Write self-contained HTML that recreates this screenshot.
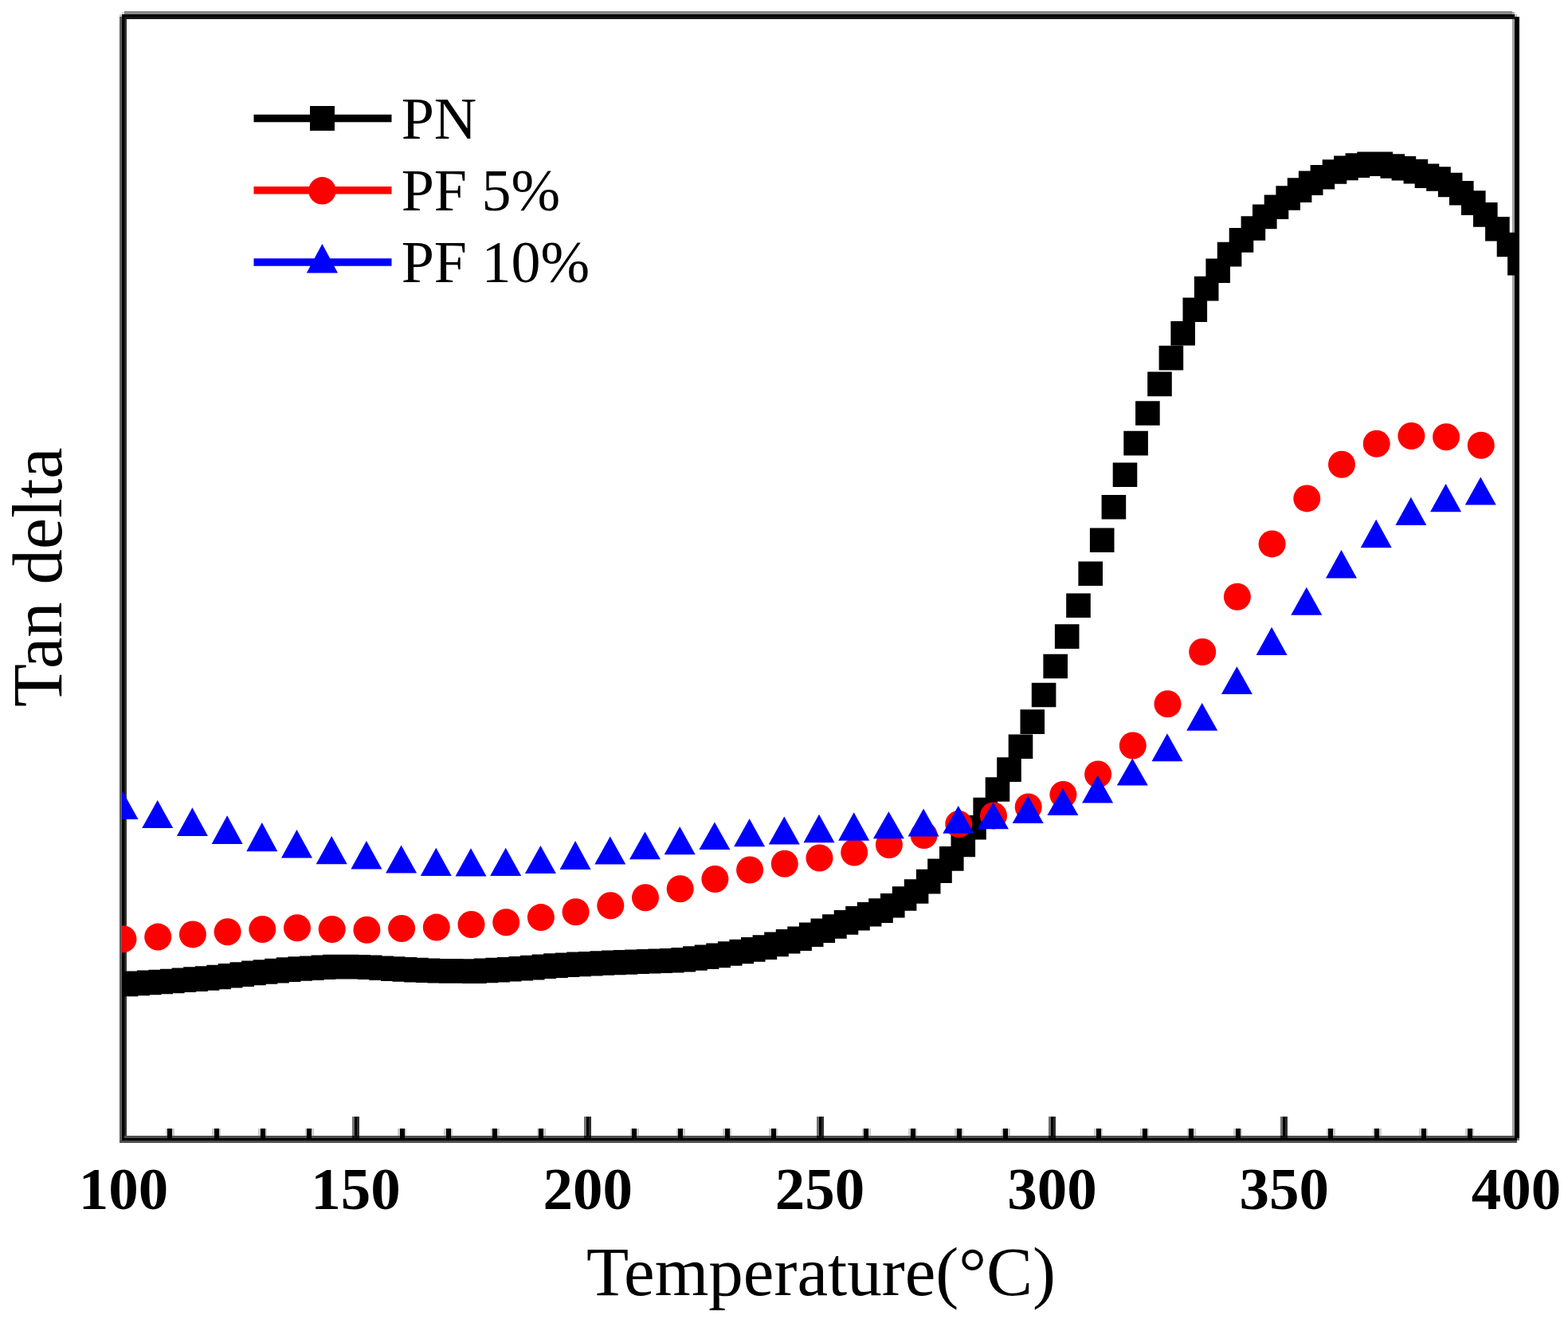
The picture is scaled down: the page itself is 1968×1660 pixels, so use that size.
<!DOCTYPE html>
<html><head><meta charset="utf-8"><title>Tan delta vs Temperature</title>
<style>
html,body{margin:0;padding:0;background:#fff;}
body{width:1968px;height:1660px;overflow:hidden;}
svg{display:block;}
.tl{font-family:"Liberation Serif",serif;font-weight:bold;font-size:75px;fill:#000;text-anchor:middle;}
.lg{font-family:"Liberation Serif",serif;font-size:74px;fill:#000;}
.ax{font-family:"Liberation Serif",serif;fill:#000;}
</style></head>
<body>
<svg width="1968" height="1660" viewBox="0 0 1968 1660">
<defs><clipPath id="pa"><rect x="153" y="18" width="1748" height="1410"/></clipPath></defs>
<rect width="1968" height="1660" fill="#fff"/>
<!-- frame -->
<g shape-rendering="crispEdges">
<rect x="156" y="14" width="1742" height="4" fill="#888"/>
<rect x="153" y="15" width="3" height="3" fill="#ddd"/>
<rect x="1898" y="15" width="3" height="3" fill="#aaa"/>
<rect x="153" y="18" width="1748" height="3" fill="#000"/>
<rect x="150" y="21" width="1751" height="3" fill="#161616"/>
<rect x="150" y="18" width="3" height="3" fill="#ccc"/>
<rect x="1901" y="18" width="3" height="3" fill="#bbb"/>
<rect x="150" y="1425" width="1751" height="3" fill="#505050"/>
<rect x="150" y="1428" width="1754" height="3" fill="#000"/>
<rect x="1904" y="1428" width="3" height="3" fill="#777"/>
<rect x="150" y="1431" width="1754" height="3" fill="#4c4c4c"/>
<rect x="150" y="21" width="3" height="1410" fill="#5c5c5c"/>
<rect x="153" y="21" width="3" height="1410" fill="#000"/>
<rect x="156" y="24" width="1" height="1401" fill="#1a1a1a"/>
<rect x="157" y="24" width="2" height="1401" fill="#363636"/>
<rect x="1898" y="24" width="3" height="1401" fill="#a0a0a0"/>
<rect x="1901" y="21" width="6" height="1407" fill="#000"/>
<rect x="207.8" y="1416" width="2.5" height="9" fill="#ccc"/>
<rect x="210.3" y="1416" width="6" height="12" fill="#000"/>
<rect x="216.3" y="1416" width="2.5" height="9" fill="#ccc"/>
<rect x="266" y="1416" width="2.5" height="9" fill="#ccc"/>
<rect x="268.5" y="1416" width="6" height="12" fill="#000"/>
<rect x="274.5" y="1416" width="2.5" height="9" fill="#ccc"/>
<rect x="324.3" y="1416" width="2.5" height="9" fill="#ccc"/>
<rect x="326.8" y="1416" width="6" height="12" fill="#000"/>
<rect x="332.8" y="1416" width="2.5" height="9" fill="#ccc"/>
<rect x="382.6" y="1416" width="2.5" height="9" fill="#ccc"/>
<rect x="385.1" y="1416" width="6" height="12" fill="#000"/>
<rect x="391.1" y="1416" width="2.5" height="9" fill="#ccc"/>
<rect x="441.9" y="1401" width="3" height="27" fill="#707070"/>
<rect x="444.9" y="1401" width="3" height="27" fill="#000"/>
<rect x="447.9" y="1401" width="3" height="27" fill="#2e2e2e"/>
<rect x="441.9" y="1425" width="9" height="3" fill="#111"/>
<rect x="499.1" y="1416" width="2.5" height="9" fill="#ccc"/>
<rect x="501.6" y="1416" width="6" height="12" fill="#000"/>
<rect x="507.6" y="1416" width="2.5" height="9" fill="#ccc"/>
<rect x="557.4" y="1416" width="2.5" height="9" fill="#ccc"/>
<rect x="559.9" y="1416" width="6" height="12" fill="#000"/>
<rect x="565.9" y="1416" width="2.5" height="9" fill="#ccc"/>
<rect x="615.7" y="1416" width="2.5" height="9" fill="#ccc"/>
<rect x="618.2" y="1416" width="6" height="12" fill="#000"/>
<rect x="624.2" y="1416" width="2.5" height="9" fill="#ccc"/>
<rect x="673.9" y="1416" width="2.5" height="9" fill="#ccc"/>
<rect x="676.4" y="1416" width="6" height="12" fill="#000"/>
<rect x="682.4" y="1416" width="2.5" height="9" fill="#ccc"/>
<rect x="733.2" y="1401" width="3" height="27" fill="#707070"/>
<rect x="736.2" y="1401" width="3" height="27" fill="#000"/>
<rect x="739.2" y="1401" width="3" height="27" fill="#2e2e2e"/>
<rect x="733.2" y="1425" width="9" height="3" fill="#111"/>
<rect x="790.5" y="1416" width="2.5" height="9" fill="#ccc"/>
<rect x="793" y="1416" width="6" height="12" fill="#000"/>
<rect x="799" y="1416" width="2.5" height="9" fill="#ccc"/>
<rect x="848.7" y="1416" width="2.5" height="9" fill="#ccc"/>
<rect x="851.2" y="1416" width="6" height="12" fill="#000"/>
<rect x="857.2" y="1416" width="2.5" height="9" fill="#ccc"/>
<rect x="907" y="1416" width="2.5" height="9" fill="#ccc"/>
<rect x="909.5" y="1416" width="6" height="12" fill="#000"/>
<rect x="915.5" y="1416" width="2.5" height="9" fill="#ccc"/>
<rect x="965.3" y="1416" width="2.5" height="9" fill="#ccc"/>
<rect x="967.8" y="1416" width="6" height="12" fill="#000"/>
<rect x="973.8" y="1416" width="2.5" height="9" fill="#ccc"/>
<rect x="1024.5" y="1401" width="3" height="27" fill="#707070"/>
<rect x="1027.5" y="1401" width="3" height="27" fill="#000"/>
<rect x="1030.5" y="1401" width="3" height="27" fill="#2e2e2e"/>
<rect x="1024.5" y="1425" width="9" height="3" fill="#111"/>
<rect x="1081.8" y="1416" width="2.5" height="9" fill="#ccc"/>
<rect x="1084.3" y="1416" width="6" height="12" fill="#000"/>
<rect x="1090.3" y="1416" width="2.5" height="9" fill="#ccc"/>
<rect x="1140.1" y="1416" width="2.5" height="9" fill="#ccc"/>
<rect x="1142.6" y="1416" width="6" height="12" fill="#000"/>
<rect x="1148.6" y="1416" width="2.5" height="9" fill="#ccc"/>
<rect x="1198.4" y="1416" width="2.5" height="9" fill="#ccc"/>
<rect x="1200.9" y="1416" width="6" height="12" fill="#000"/>
<rect x="1206.9" y="1416" width="2.5" height="9" fill="#ccc"/>
<rect x="1256.6" y="1416" width="2.5" height="9" fill="#ccc"/>
<rect x="1259.1" y="1416" width="6" height="12" fill="#000"/>
<rect x="1265.1" y="1416" width="2.5" height="9" fill="#ccc"/>
<rect x="1315.9" y="1401" width="3" height="27" fill="#707070"/>
<rect x="1318.9" y="1401" width="3" height="27" fill="#000"/>
<rect x="1321.9" y="1401" width="3" height="27" fill="#2e2e2e"/>
<rect x="1315.9" y="1425" width="9" height="3" fill="#111"/>
<rect x="1373.2" y="1416" width="2.5" height="9" fill="#ccc"/>
<rect x="1375.7" y="1416" width="6" height="12" fill="#000"/>
<rect x="1381.7" y="1416" width="2.5" height="9" fill="#ccc"/>
<rect x="1431.4" y="1416" width="2.5" height="9" fill="#ccc"/>
<rect x="1433.9" y="1416" width="6" height="12" fill="#000"/>
<rect x="1439.9" y="1416" width="2.5" height="9" fill="#ccc"/>
<rect x="1489.7" y="1416" width="2.5" height="9" fill="#ccc"/>
<rect x="1492.2" y="1416" width="6" height="12" fill="#000"/>
<rect x="1498.2" y="1416" width="2.5" height="9" fill="#ccc"/>
<rect x="1548" y="1416" width="2.5" height="9" fill="#ccc"/>
<rect x="1550.5" y="1416" width="6" height="12" fill="#000"/>
<rect x="1556.5" y="1416" width="2.5" height="9" fill="#ccc"/>
<rect x="1607.2" y="1401" width="3" height="27" fill="#707070"/>
<rect x="1610.2" y="1401" width="3" height="27" fill="#000"/>
<rect x="1613.2" y="1401" width="3" height="27" fill="#2e2e2e"/>
<rect x="1607.2" y="1425" width="9" height="3" fill="#111"/>
<rect x="1664.5" y="1416" width="2.5" height="9" fill="#ccc"/>
<rect x="1667" y="1416" width="6" height="12" fill="#000"/>
<rect x="1673" y="1416" width="2.5" height="9" fill="#ccc"/>
<rect x="1722.8" y="1416" width="2.5" height="9" fill="#ccc"/>
<rect x="1725.3" y="1416" width="6" height="12" fill="#000"/>
<rect x="1731.3" y="1416" width="2.5" height="9" fill="#ccc"/>
<rect x="1781.1" y="1416" width="2.5" height="9" fill="#ccc"/>
<rect x="1783.6" y="1416" width="6" height="12" fill="#000"/>
<rect x="1789.6" y="1416" width="2.5" height="9" fill="#ccc"/>
<rect x="1839.3" y="1416" width="2.5" height="9" fill="#ccc"/>
<rect x="1841.8" y="1416" width="6" height="12" fill="#000"/>
<rect x="1847.8" y="1416" width="2.5" height="9" fill="#ccc"/>
</g>
<!-- data -->
<g clip-path="url(#pa)">
<path fill="#000" d="M142.7 1219.6h30.6v30.6h-30.6zM157.3 1218.6h30.6v30.6h-30.6zM171.9 1217.6h30.6v30.6h-30.6zM186.4 1216.7h30.6v30.6h-30.6zM201 1215.7h30.6v30.6h-30.6zM215.6 1214.5h30.6v30.6h-30.6zM230.2 1213.3h30.6v30.6h-30.6zM244.8 1212.2h30.6v30.6h-30.6zM259.3 1210.7h30.6v30.6h-30.6zM273.9 1209h30.6v30.6h-30.6zM288.5 1207.3h30.6v30.6h-30.6zM303.1 1205.6h30.6v30.6h-30.6zM317.7 1204.2h30.6v30.6h-30.6zM332.2 1202.8h30.6v30.6h-30.6zM346.8 1201.3h30.6v30.6h-30.6zM361.4 1200.2h30.6v30.6h-30.6zM376 1199.4h30.6v30.6h-30.6zM390.6 1198.5h30.6v30.6h-30.6zM405.1 1197.7h30.6v30.6h-30.6zM419.7 1197.8h30.6v30.6h-30.6zM434.3 1197.9h30.6v30.6h-30.6zM448.9 1198.4h30.6v30.6h-30.6zM463.5 1199.4h30.6v30.6h-30.6zM478 1200.3h30.6v30.6h-30.6zM492.6 1201.1h30.6v30.6h-30.6zM507.2 1201.8h30.6v30.6h-30.6zM521.8 1202.5h30.6v30.6h-30.6zM536.4 1203h30.6v30.6h-30.6zM550.9 1203.1h30.6v30.6h-30.6zM565.5 1203.2h30.6v30.6h-30.6zM580.1 1203.3h30.6v30.6h-30.6zM594.7 1202.6h30.6v30.6h-30.6zM609.3 1201.8h30.6v30.6h-30.6zM623.8 1201h30.6v30.6h-30.6zM638.4 1200h30.6v30.6h-30.6zM653 1198.8h30.6v30.6h-30.6zM667.6 1197.5h30.6v30.6h-30.6zM682.2 1196.3h30.6v30.6h-30.6zM696.7 1195.4h30.6v30.6h-30.6zM711.3 1194.6h30.6v30.6h-30.6zM725.9 1193.9h30.6v30.6h-30.6zM740.5 1193.2h30.6v30.6h-30.6zM755.1 1192.6h30.6v30.6h-30.6zM769.6 1192.1h30.6v30.6h-30.6zM784.2 1191.5h30.6v30.6h-30.6zM798.8 1191h30.6v30.6h-30.6zM813.4 1190.5h30.6v30.6h-30.6zM828 1189.9h30.6v30.6h-30.6zM842.5 1189h30.6v30.6h-30.6zM857.1 1187.2h30.6v30.6h-30.6zM871.7 1185.4h30.6v30.6h-30.6zM886.3 1183.6h30.6v30.6h-30.6zM900.9 1181.2h30.6v30.6h-30.6zM915.4 1178.7h30.6v30.6h-30.6zM930 1176.1h30.6v30.6h-30.6zM944.6 1173.3h30.6v30.6h-30.6zM959.2 1169.6h30.6v30.6h-30.6zM973.8 1166h30.6v30.6h-30.6zM988.3 1162.4h30.6v30.6h-30.6zM1002.9 1157.5h30.6v30.6h-30.6zM1017.5 1152.4h30.6v30.6h-30.6zM1032.1 1147.2h30.6v30.6h-30.6zM1046.7 1142.1h30.6v30.6h-30.6zM1061.2 1137h30.6v30.6h-30.6zM1075.8 1131.9h30.6v30.6h-30.6zM1090.2 1127.3h30.6v30.6h-30.6zM1105 1121h30.6v30.6h-30.6zM1119.8 1112.2h30.6v30.6h-30.6zM1134.8 1103.2h30.6v30.6h-30.6zM1149.9 1090.8h30.6v30.6h-30.6zM1164.2 1077.4h30.6v30.6h-30.6zM1179 1062.1h30.6v30.6h-30.6zM1193.5 1044.7h30.6v30.6h-30.6zM1207.2 1023h30.6v30.6h-30.6zM1221.4 1000.7h30.6v30.6h-30.6zM1236.7 975.2h30.6v30.6h-30.6zM1251.2 950.3h30.6v30.6h-30.6zM1265.7 921.5h30.6v30.6h-30.6zM1280.5 890.3h30.6v30.6h-30.6zM1294.8 856.7h30.6v30.6h-30.6zM1309.4 820.7h30.6v30.6h-30.6zM1323.9 783.3h30.6v30.6h-30.6zM1338.2 744.4h30.6v30.6h-30.6zM1353.4 704.4h30.6v30.6h-30.6zM1367.9 662.4h30.6v30.6h-30.6zM1382.6 620.9h30.6v30.6h-30.6zM1396.7 580.5h30.6v30.6h-30.6zM1410.3 540.8h30.6v30.6h-30.6zM1425.1 503.2h30.6v30.6h-30.6zM1440.2 466.6h30.6v30.6h-30.6zM1454.6 433.8h30.6v30.6h-30.6zM1469.4 403h30.6v30.6h-30.6zM1484.5 373.5h30.6v30.6h-30.6zM1498.9 346.8h30.6v30.6h-30.6zM1513.4 324.4h30.6v30.6h-30.6zM1527.8 303.8h30.6v30.6h-30.6zM1542.7 286.1h30.6v30.6h-30.6zM1557.6 271.2h30.6v30.6h-30.6zM1572 256.6h30.6v30.6h-30.6zM1586.7 244.5h30.6v30.6h-30.6zM1601.4 233.2h30.6v30.6h-30.6zM1615.8 223.3h30.6v30.6h-30.6zM1629.9 214.4h30.6v30.6h-30.6zM1644.6 206.9h30.6v30.6h-30.6zM1659.7 200.2h30.6v30.6h-30.6zM1674.1 195.6h30.6v30.6h-30.6zM1688.6 192.3h30.6v30.6h-30.6zM1703.3 190.4h30.6v30.6h-30.6zM1717.4 190.4h30.6v30.6h-30.6zM1732.5 193.2h30.6v30.6h-30.6zM1746.6 196h30.6v30.6h-30.6zM1761.6 199.8h30.6v30.6h-30.6zM1775.7 205.4h30.6v30.6h-30.6zM1790.2 209.2h30.6v30.6h-30.6zM1804.9 216.7h30.6v30.6h-30.6zM1819 227h30.6v30.6h-30.6zM1834 239.3h30.6v30.6h-30.6zM1849 254.1h30.6v30.6h-30.6zM1864.1 271.9h30.6v30.6h-30.6zM1878.7 291.7h30.6v30.6h-30.6zM1892.1 315h30.6v30.6h-30.6z"/>
<g fill="#f00"><circle cx="154.5" cy="1178.2" r="17"/><circle cx="198.2" cy="1175.6" r="17"/><circle cx="241.9" cy="1172.4" r="17"/><circle cx="285.6" cy="1169.2" r="17"/><circle cx="329.3" cy="1166" r="17"/><circle cx="373" cy="1164.3" r="17"/><circle cx="416.7" cy="1166" r="17"/><circle cx="460.4" cy="1166.7" r="17"/><circle cx="504.1" cy="1165" r="17"/><circle cx="547.8" cy="1163.6" r="17"/><circle cx="591.5" cy="1160" r="17"/><circle cx="635.2" cy="1157.3" r="17"/><circle cx="678.9" cy="1151.1" r="17"/><circle cx="722.6" cy="1144.3" r="17"/><circle cx="766.3" cy="1136.2" r="17"/><circle cx="810" cy="1126.2" r="17"/><circle cx="853.7" cy="1115.2" r="17"/><circle cx="897.4" cy="1103" r="17"/><circle cx="941.1" cy="1091.5" r="17"/><circle cx="984.8" cy="1083.8" r="17"/><circle cx="1028.5" cy="1076.5" r="17"/><circle cx="1072.2" cy="1069.5" r="17"/><circle cx="1115.9" cy="1060" r="17"/><circle cx="1159.6" cy="1048" r="17"/><circle cx="1203.3" cy="1034" r="17"/><circle cx="1247" cy="1023.4" r="17"/><circle cx="1290.7" cy="1012.4" r="17"/><circle cx="1334.4" cy="997" r="17"/><circle cx="1378.1" cy="971.5" r="17"/><circle cx="1421.8" cy="935.5" r="17"/><circle cx="1465.5" cy="883.3" r="17"/><circle cx="1509.2" cy="818" r="17"/><circle cx="1552.9" cy="748.8" r="17"/><circle cx="1596.6" cy="682.4" r="17"/><circle cx="1640.3" cy="625.4" r="17"/><circle cx="1684" cy="582.8" r="17"/><circle cx="1727.7" cy="556.7" r="17"/><circle cx="1771.4" cy="547" r="17"/><circle cx="1815.1" cy="548.2" r="17"/><circle cx="1858.8" cy="558.8" r="17"/></g>
<path fill="#00f" d="M154 993L173.5 1028L134.5 1028zM197.7 1004.1L217.2 1039L178.2 1039zM241.4 1013.3L260.9 1049L221.9 1049zM285.1 1023.3L304.6 1059.1L265.6 1059.1zM328.8 1031.9L348.3 1068.2L309.3 1068.2zM372.5 1041.1L392 1076.5L353 1076.5zM416.2 1048.9L435.7 1084.2L396.7 1084.2zM459.9 1055.1L479.4 1090.5L440.4 1090.5zM503.6 1060.6L523.1 1095.4L484.1 1095.4zM547.3 1063.7L566.8 1099.1L527.8 1099.1zM591 1064.3L610.5 1099.6L571.5 1099.6zM634.7 1063.7L654.2 1099.1L615.2 1099.1zM678.4 1061L697.9 1096L658.9 1096zM722.1 1055.1L741.6 1090.9L702.6 1090.9zM765.8 1049.5L785.3 1084.5L746.3 1084.5zM809.5 1043.4L829 1078.2L790 1078.2zM853.2 1037L872.7 1072.2L833.7 1072.2zM896.9 1031.5L916.4 1066L877.4 1066zM940.6 1027.3L960.1 1062.3L921.1 1062.3zM984.3 1024.6L1003.8 1059.4L964.8 1059.4zM1028 1021.8L1047.5 1057.2L1008.5 1057.2zM1071.7 1019.3L1091.2 1054.7L1052.2 1054.7zM1115.4 1018.3L1134.9 1052.2L1095.9 1052.2zM1159.1 1014.6L1178.6 1049.5L1139.6 1049.5zM1202.8 1011L1222.3 1045.8L1183.3 1045.8zM1246.5 1006.4L1266 1040.3L1227 1040.3zM1290.2 998.2L1309.7 1033L1270.7 1033zM1333.9 989L1353.4 1022.9L1314.4 1022.9zM1377.6 972.5L1397.1 1007.4L1358.1 1007.4zM1421.3 951.5L1440.8 985.4L1401.8 985.4zM1465 920.3L1484.5 955.2L1445.5 955.2zM1508.7 881.9L1528.2 916.8L1489.2 916.8zM1552.4 836.2L1571.9 871L1532.9 871zM1596.1 786.8L1615.6 822.1L1576.6 822.1zM1639.8 736.7L1659.3 771.7L1620.3 771.7zM1683.5 690L1703 725.5L1664 725.5zM1727.2 651.8L1746.7 687.3L1707.7 687.3zM1770.9 623.7L1790.4 658.9L1751.4 658.9zM1814.6 607.1L1834.1 642.2L1795.1 642.2zM1858.3 598.5L1877.8 633.5L1838.8 633.5z"/>
</g>
<!-- tick labels -->
<g class="tl">
<text x="155" y="1517">100</text>
<text x="446.4" y="1517">150</text>
<text x="737.7" y="1517">200</text>
<text x="1029" y="1517">250</text>
<text x="1320.4" y="1517">300</text>
<text x="1611.8" y="1517">350</text>
<text x="1903.1" y="1517">400</text>
</g>
<!-- axis titles -->
<text class="ax" x="736" y="1624.5" font-size="87">Temperature(°C)</text>
<text class="ax" font-size="88.5" transform="translate(76.5,887) rotate(-90)">Tan delta</text>
<!-- legend -->
<g stroke-width="9.5" stroke-linecap="butt">
<line x1="318.5" y1="148.5" x2="491.5" y2="148.5" stroke="#000"/>
<line x1="318.5" y1="238.8" x2="491.5" y2="238.8" stroke="#f00"/>
<line x1="318.5" y1="329" x2="491.5" y2="329" stroke="#00f"/>
</g>
<rect x="389" y="133" width="31" height="31" fill="#000"/>
<circle cx="404.4" cy="239.3" r="17.2" fill="#f00"/>
<path d="M404.4 306L424 342.5L384.8 342.5z" fill="#00f"/>
<g class="lg">
<text x="503.7" y="173.6">PN</text>
<text x="503.7" y="263.6">PF 5%</text>
<text x="503.7" y="353.6">PF 10%</text>
</g>
</svg>
</body></html>
